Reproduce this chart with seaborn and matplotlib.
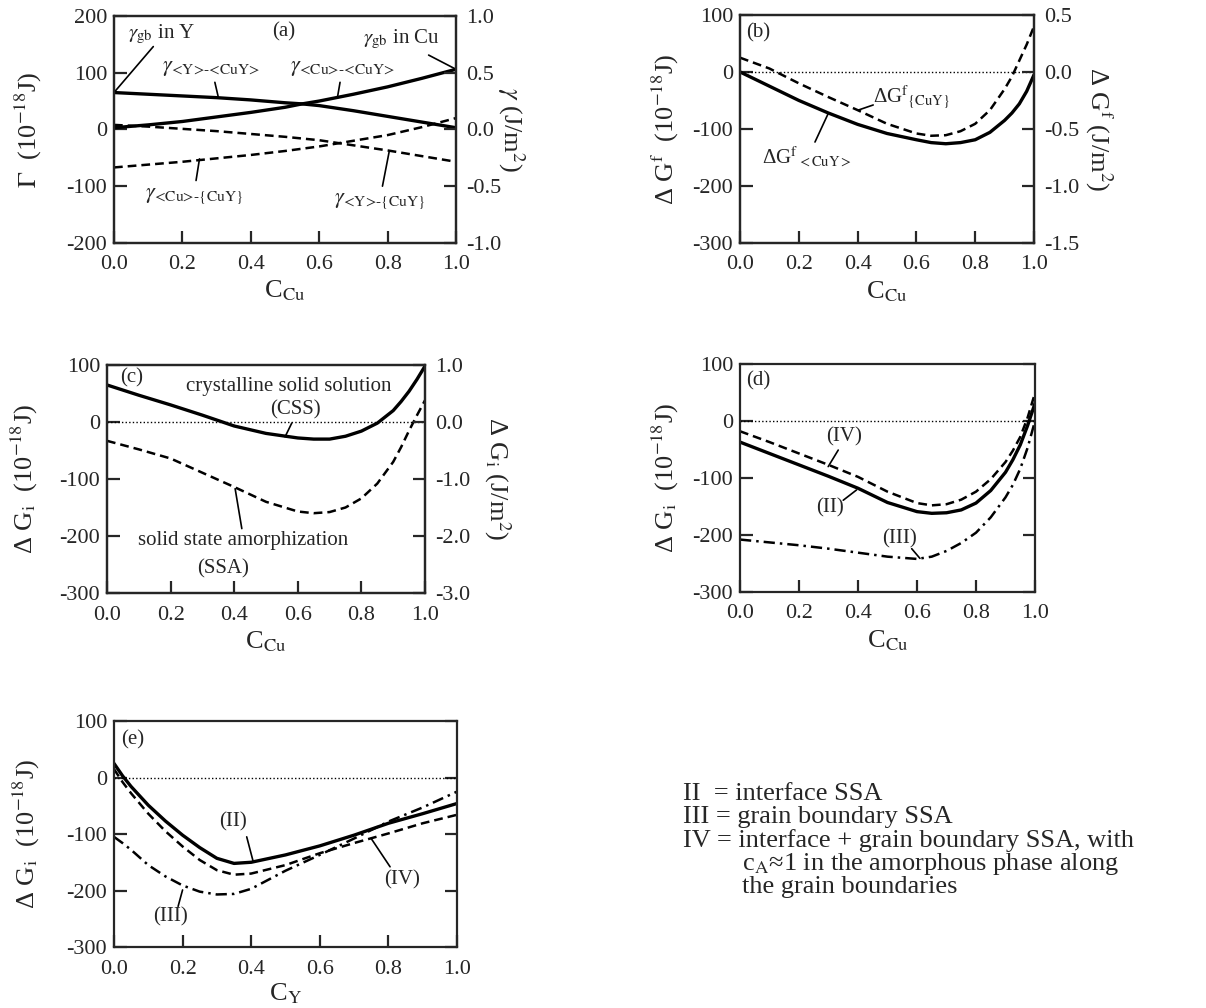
import matplotlib
matplotlib.use("Agg")
import matplotlib.pyplot as plt
import seaborn as sns

# ---- data ----
# (a) interface / grain boundary energies
xa = [0.0, 0.1, 0.2, 0.3, 0.4, 0.5, 0.55, 0.6, 0.7, 0.8, 0.9, 1.0]
g_y_cuy = [65, 62, 59, 56, 52, 47, 45, 42, 33, 23, 13, 3]
g_cu_cuy = [3, 8, 14, 22, 30, 39, 45, 50, 62, 75, 90, 106]
g_y_am = [8, 5, 1, -3, -8, -13, -16, -19, -28, -37, -47, -57]
g_cu_am = [-67, -62, -57, -51, -45, -38, -34, -30, -20, -10, 4, 20]

# (b) formation energies
xb = [0.0, 0.1, 0.2, 0.3, 0.4, 0.5, 0.6, 0.65, 0.7, 0.75, 0.8, 0.85, 0.9, 0.925, 0.95, 0.975, 1.0]
dg_cryst = [0, -25, -50, -72, -92, -108, -119, -124, -126, -124, -119, -106, -85, -72, -56, -34, -5]
dg_amorph = [25, 6, -20, -44, -67, -91, -108, -112, -111, -104, -91, -67, -30, -8, 20, 48, 80]

# (c) CSS vs SSA
xc = [0.0, 0.1, 0.2, 0.3, 0.4, 0.5, 0.6, 0.65, 0.7, 0.75, 0.8, 0.85, 0.9, 0.925, 0.95, 0.975, 1.0]
dg_css = [65, 47, 30, 12, -7, -20, -28, -30, -30, -25, -16, -2, 20, 36, 54, 75, 98]
dg_ssa = [-33, -48, -64, -89, -114, -140, -157, -160, -158, -150, -134, -108, -70, -44, -15, 12, 38]

# (d) vs C_Cu
xd = [0.0, 0.1, 0.2, 0.3, 0.4, 0.5, 0.6, 0.65, 0.7, 0.75, 0.8, 0.85, 0.9, 0.925, 0.95, 0.975, 1.0]
d_II = [-37, -57, -77, -97, -118, -143, -159, -162, -161, -156, -144, -122, -90, -68, -42, -8, 31]
d_IV = [-18, -37, -57, -77, -98, -124, -144, -148, -146, -138, -124, -102, -72, -52, -28, 6, 49]
d_III = [-208, -213, -218, -224, -231, -238, -242, -238, -228, -214, -196, -169, -134, -112, -84, -47, 0]

# (e) vs C_Y
xe = [0.0, 0.025, 0.05, 0.1, 0.15, 0.2, 0.25, 0.3, 0.35, 0.4, 0.5, 0.6, 0.7, 0.8, 0.9, 1.0]
e_II = [25, 3, -16, -49, -77, -102, -124, -143, -152, -150, -137, -121, -102, -81, -64, -46]
e_IV = [15, -8, -28, -64, -95, -122, -146, -164, -172, -170, -155, -134, -116, -99, -81, -66]
e_III = [-105, -116, -128, -155, -175, -191, -202, -207, -206, -197, -165, -137, -108, -78, -53, -25]

xticks = [0.0, 0.2, 0.4, 0.6, 0.8, 1.0]

sns.set_style("ticks")
plt.rcParams['font.family'] = ['Liberation Serif', 'DejaVu Serif']
plt.rcParams['mathtext.fontset'] = 'stix'
plt.rcParams['axes.unicode_minus'] = False
plt.rcParams['axes.linewidth'] = 1.6

SOLID = dict(color='black', lw=2.4)
DASH = dict(color='black', lw=1.8, dashes=(3.5, 2.0))
DASHDOT = dict(color='black', lw=1.8, dashes=(4.5, 2.0, 1, 2.0))

TICK_FS = 16
LABEL_FS = 19
ANNOT_FS = 15

fig = plt.figure(figsize=(12.06, 10.08), dpi=100)


def setup(ax, ylim, yticks, xlabel, ylabel, ylab_x):
    ax.set_xlim(0, 1)
    ax.set_ylim(*ylim)
    ax.set_xticks(xticks)
    ax.set_xticklabels([f"{t:.1f}" for t in xticks])
    ax.set_yticks(yticks)
    ax.set_yticklabels([str(t) for t in yticks])
    ax.tick_params(direction='in', length=9, width=1.6, labelsize=TICK_FS,
                   right=True, top=False)
    ax.tick_params(axis='x', pad=9)
    ax.tick_params(axis='y', pad=5)
    ax.set_xlabel(xlabel, fontsize=LABEL_FS, va='baseline')
    ax.xaxis.set_label_coords(0.5, -0.242)
    ax.set_ylabel(ylabel, fontsize=LABEL_FS, va='center')
    ax.yaxis.set_label_coords(ylab_x, 0.5)
    ax.axhline(0, color='black', lw=1.0, ls=(0, (1, 1.6)))


def right_axis(ax, ylim, ticks, label, xpos):
    r = ax.twinx()
    r.set_ylim(*ylim)
    r.set_yticks(ticks)
    r.set_yticklabels([f"{t:.1f}" for t in ticks])
    r.tick_params(direction='in', length=9, width=1.6, labelsize=TICK_FS, pad=7)
    r.set_ylabel(label, fontsize=LABEL_FS, rotation=270, va='center')
    r.yaxis.set_label_coords(xpos, 0.5)
    return r


def lead(ax, p0, p1):
    ax.annotate('', xy=p1, xytext=p0,
                arrowprops=dict(arrowstyle='-', lw=1.2, color='black',
                                shrinkA=0, shrinkB=0))


TXT = dict(fontsize=ANNOT_FS, ha='center', va='center')
xl_cu = r"C$_{\rm Cu}$"
yl_gi = r"Δ G$_{\rm i}$  (10$^{-18}$J)"

# ---------- (a) ----------
ax = fig.add_axes([0.0945, 0.759, 0.2836, 0.2252])
sns.lineplot(x=xa, y=g_y_cuy, ax=ax, **SOLID)
sns.lineplot(x=xa, y=g_cu_cuy, ax=ax, **SOLID)
sns.lineplot(x=xa, y=g_y_am, ax=ax, **DASH)
sns.lineplot(x=xa, y=g_cu_am, ax=ax, **DASH)
setup(ax, (-200, 200), [-200, -100, 0, 100, 200], xl_cu, r"$\Gamma$  (10$^{-18}$J)", -0.249)
ax.lines[-1].remove()   # no zero line in (a)
right_axis(ax, (-1, 1), [-1.0, -0.5, 0.0, 0.5, 1.0], r"$\gamma$ (J/m$^2$)", 1.161)
ax.text(0.495, 172, "(a)", **TXT)
ax.text(0.14, 168, r"$\gamma_{\rm gb}$ in Y", **TXT)
ax.text(0.84, 158, r"$\gamma_{\rm gb}$ in Cu", **TXT)
ax.text(0.286, 108, r"$\gamma_{\text{<Y>-<CuY>}}$", fontsize=16, ha='center', va='center')
ax.text(0.668, 108, r"$\gamma_{\text{<Cu>-<CuY>}}$", fontsize=16, ha='center', va='center')
ax.text(0.234, -118, r"$\gamma_{\text{<Cu>-}\{\text{CuY}\}}$", fontsize=16, ha='center', va='center')
ax.text(0.778, -127, r"$\gamma_{\text{<Y>-}\{\text{CuY}\}}$", fontsize=16, ha='center', va='center')
lead(ax, (0.0, 65), (0.115, 146))
lead(ax, (0.92, 131), (1.0, 106))
lead(ax, (0.295, 83), (0.305, 57))
lead(ax, (0.661, 83), (0.653, 55))
lead(ax, (0.25, -52), (0.24, -90))
lead(ax, (0.805, -38), (0.785, -100))

# ---------- (b) ----------
ax = fig.add_axes([0.6136, 0.759, 0.2438, 0.2262])
setup(ax, (-300, 100), [-300, -200, -100, 0, 100], xl_cu,
      r"Δ G$^{\rm f}$  (10$^{-18}$J)", -0.252)
sns.lineplot(x=xb, y=dg_cryst, ax=ax, **SOLID)
sns.lineplot(x=xb, y=dg_amorph, ax=ax, **DASH)
right_axis(ax, (-1.5, 0.5), [-1.5, -1.0, -0.5, 0.0, 0.5], r"Δ G$^{\rm f}$ (J/m$^2$)", 1.218)
ax.text(0.062, 68, "(b)", **TXT)
ax.text(0.583, -44, r"ΔG$^{\rm f}$$_{\{\rm CuY\}}$", **TXT)
ax.text(0.229, -149, r"ΔG$^{\rm f}$$_{\rm <CuY>}$", **TXT)
lead(ax, (0.402, -67), (0.453, -58))
lead(ax, (0.255, -123), (0.30, -73))

# ---------- (c) ----------
ax = fig.add_axes([0.0887, 0.4117, 0.2637, 0.2262])
setup(ax, (-300, 100), [-300, -200, -100, 0, 100], xl_cu, yl_gi, -0.258)
sns.lineplot(x=xc, y=dg_css, ax=ax, **SOLID)
sns.lineplot(x=xc, y=dg_ssa, ax=ax, **DASH)
right_axis(ax, (-3, 1), [-3.0, -2.0, -1.0, 0.0, 1.0], r"Δ G$_{\rm i}$ (J/m$^2$)", 1.226)
ax.text(0.079, 77, "(c)", **TXT)
ax.text(0.571, 62, "crystalline solid solution", **TXT)
ax.text(0.592, 21, "(CSS)", **TXT)
ax.text(0.429, -208, "solid state amorphization", **TXT)
ax.text(0.366, -257, "(SSA)", **TXT)
lead(ax, (0.581, -2), (0.56, -26))
lead(ax, (0.424, -187), (0.403, -117))

# ---------- (d) ----------
ax = fig.add_axes([0.6136, 0.4127, 0.2446, 0.2262])
setup(ax, (-300, 100), [-300, -200, -100, 0, 100], xl_cu, yl_gi, -0.251)
sns.lineplot(x=xd, y=d_II, ax=ax, **SOLID)
sns.lineplot(x=xd, y=d_IV, ax=ax, **DASH)
sns.lineplot(x=xd, y=d_III, ax=ax, **DASHDOT)
ax.text(0.062, 70, "(d)", **TXT)
ax.text(0.354, -27, "(IV)", **TXT)
ax.text(0.305, -153, "(II)", **TXT)
ax.text(0.542, -206, "(III)", **TXT)
lead(ax, (0.333, -51), (0.299, -80))
lead(ax, (0.350, -139), (0.395, -121))
lead(ax, (0.582, -224), (0.610, -241))

# ---------- (e) ----------
ax = fig.add_axes([0.0945, 0.0605, 0.2844, 0.2242])
setup(ax, (-300, 100), [-300, -200, -100, 0, 100], r"C$_{\rm Y}$", yl_gi, -0.254)
ax.xaxis.set_label_coords(0.5, -0.235)
sns.lineplot(x=xe, y=e_II, ax=ax, **SOLID)
sns.lineplot(x=xe, y=e_IV, ax=ax, **DASH)
sns.lineplot(x=xe, y=e_III, ax=ax, **DASHDOT)
ax.text(0.056, 66, "(e)", **TXT)
ax.text(0.346, -78, "(II)", **TXT)
ax.text(0.165, -246, "(III)", **TXT)
ax.text(0.839, -181, "(IV)", **TXT)
lead(ax, (0.387, -105), (0.406, -149))
lead(ax, (0.187, -228), (0.2, -199))
lead(ax, (0.805, -158), (0.75, -108))

# ---------- key ----------
W, H = 1206, 1008
key = [(683, 800, "II  = interface SSA"),
       (683, 823, "III = grain boundary SSA"),
       (683, 847, "IV = interface + grain boundary SSA, with"),
       (742, 870, r"c$_{\rm A}$≈1 in the amorphous phase along"),
       (742, 893, "the grain boundaries")]
for kx, ky, s in key:
    fig.text(kx / W, 1 - ky / H, s, fontsize=19, ha='left', va='baseline')

fig.savefig("out.png", dpi=100)
